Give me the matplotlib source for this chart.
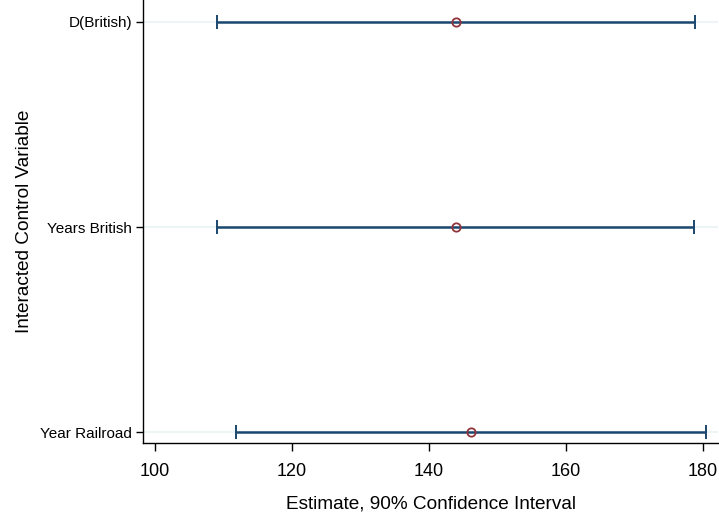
import numpy as np
import matplotlib
matplotlib.use("Agg")
import matplotlib.pyplot as plt

plt.rcParams['font.family'] = ['Liberation Sans', 'DejaVu Sans']

# coefficient plot data
variables = ["Year Railroad", "Years British", "D(British)"]
estimates = [146.2, 143.9, 143.9]
ci_low = [111.8, 109.1, 109.0]
ci_high = [180.5, 178.7, 178.8]
xticks = [100, 120, 140, 160, 180]

fig = plt.figure(figsize=(7.19, 5.16), dpi=100)
ax = fig.add_axes([0.1993, 0.1409, 0.7993, 0.8591])

ypos = np.arange(1, len(variables) + 1)
est = np.array(estimates)
lo = np.array(ci_low)
hi = np.array(ci_high)

for y in ypos:
    ax.axhline(y, color='#eaf2f3', linewidth=1.2, zorder=0)

ax.errorbar(est, ypos, xerr=[est - lo, hi - est], fmt='none',
            ecolor='#1a476f', elinewidth=1.8, capsize=5, capthick=1.4, zorder=2)
ax.plot(est, ypos, 'o', markersize=6, markerfacecolor='none',
        markeredgecolor='#90353b', markeredgewidth=1.3, zorder=3)

ax.set_xlim(98.3, 182.2)
ax.set_ylim(0.946, 3.107)
ax.set_xticks(xticks)
ax.set_xticklabels([str(t) for t in xticks], fontsize=13)
ax.set_yticks(ypos)
ax.set_yticklabels(variables, fontsize=11)
ax.tick_params(axis='x', length=6, width=1, pad=8)
ax.tick_params(axis='y', length=5, width=1, pad=3)

ax.spines['top'].set_visible(False)
ax.spines['right'].set_visible(False)
ax.spines['left'].set_linewidth(1)
ax.spines['bottom'].set_linewidth(1)

ax.set_xlabel("Estimate, 90% Confidence Interval", fontsize=13.7, labelpad=11)
ax.set_ylabel("Interacted Control Variable", fontsize=13.7, labelpad=5)

fig.savefig("out.png", dpi=100)
